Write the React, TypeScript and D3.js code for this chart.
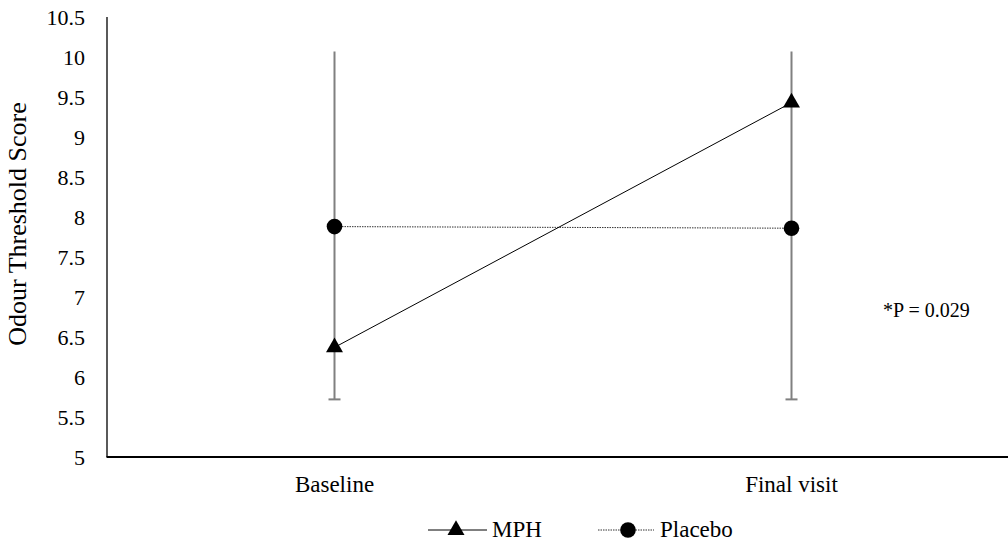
import React from "react";
import * as d3 from "d3";

const categories = ["Baseline", "Final visit"];
const mphValues = [6.37, 9.43];
const placeboValues = [7.88, 7.86];
const errLow = [5.72, 5.72];
const errHigh = [10.07, 10.07];
const yTicks = [5, 5.5, 6, 6.5, 7, 7.5, 8, 8.5, 9, 9.5, 10, 10.5];
const annotation = "*P = 0.029";
const seriesNames = ["MPH", "Placebo"];

const W = 1008;
const H = 545;
const FONT = "Liberation Serif, Times New Roman, DejaVu Serif, serif";

export default function App() {
  const x = d3.scaleBand<string>().domain(categories).range([106, 1020]);
  const y = d3.scaleLinear().domain([5, 10.5]).range([457, 17]);
  const cx = (c: string) => (x(c) as number) + x.bandwidth() / 2;
  const line = d3
    .line<number>()
    .x((_, i) => cx(categories[i]))
    .y((v) => y(v));
  const tri = d3.symbol().type(d3.symbolTriangle).size(125)();
  const ts = { fontFamily: FONT };

  return (
    <svg
      width={W}
      height={H}
      style={{ position: "absolute", left: 0, top: 0, background: "#fff", fontFamily: FONT }}
    >
      <line x1={107} x2={107} y1={y(10.5)} y2={y(5)} stroke="#000" strokeWidth={1.3} />
      <line x1={106.5} x2={1008} y1={y(5)} y2={y(5)} stroke="#000" strokeWidth={1.8} />
      {yTicks.map((t) => (
        <text key={t} x={85} y={y(t)} dy="0.35em" textAnchor="end" fontSize={22} fill="#000" style={ts}>
          {t}
        </text>
      ))}
      <text
        transform="translate(26,224) rotate(-90)"
        textAnchor="middle"
        fontSize={26}
        fill="#000"
        style={ts}
      >
        Odour Threshold Score
      </text>
      {categories.map((c) => (
        <text key={c} x={cx(c)} y={492} textAnchor="middle" fontSize={23} fill="#000" style={ts}>
          {c}
        </text>
      ))}
      {categories.map((c, i) => (
        <g key={c} stroke="#808080" strokeWidth={2}>
          <line x1={cx(c)} x2={cx(c)} y1={y(errHigh[i])} y2={y(errLow[i])} />
          <line x1={cx(c) - 6} x2={cx(c) + 6} y1={y(errLow[i])} y2={y(errLow[i])} />
        </g>
      ))}
      <path d={line(placeboValues) as string} fill="none" stroke="#333" strokeWidth={1} strokeDasharray="1.5,1" />
      <path d={line(mphValues) as string} fill="none" stroke="#000" strokeWidth={1} />
      {placeboValues.map((v, i) => (
        <circle key={i} cx={cx(categories[i])} cy={y(v)} r={7.8} fill="#000" />
      ))}
      {mphValues.map((v, i) => (
        <path key={i} d={tri as string} transform={`translate(${cx(categories[i])},${y(v)})`} fill="#000" />
      ))}
      <text x={883} y={317} fontSize={20} fill="#000" style={ts}>
        {annotation}
      </text>
      <line x1={428} x2={487} y1={530} y2={530} stroke="#000" strokeWidth={1} />
      <path d={tri as string} transform="translate(456,530)" fill="#000" />
      <text x={492} y={537} fontSize={23} fill="#000" style={ts}>
        {seriesNames[0]}
      </text>
      <line x1={598} x2={654} y1={530} y2={530} stroke="#333" strokeWidth={1} strokeDasharray="1.5,1" />
      <circle cx={628} cy={530} r={7.8} fill="#000" />
      <text x={660} y={537} fontSize={23} fill="#000" style={ts}>
        {seriesNames[1]}
      </text>
    </svg>
  );
}
